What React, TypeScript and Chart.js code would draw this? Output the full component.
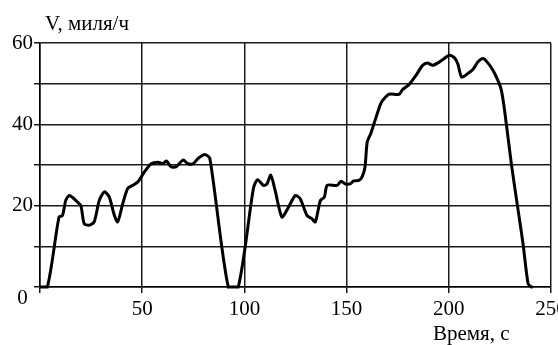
import React, { useEffect, useRef } from "react";
import { Chart, registerables } from "chart.js";

Chart.register(...registerables);

const timeSec = [
  0, 3.6, 9.3, 11, 12.6, 14.3, 16, 18.3, 20, 21.6, 24, 26.5, 29, 31.5, 33.9, 36.4, 38, 40.5, 42.9,
  45.4, 47.8, 51.1, 54.4, 57.7, 60.1, 61.8, 64.2, 66.7, 70, 72.4, 74.9, 77.3, 80.6, 83.1, 92.1, 97,
  104.4, 106.4, 109.3, 111, 112.9, 115, 118.3, 120.8, 124.9, 127.3, 130.6, 133, 134.7, 137.2, 139.1,
  140.5, 145.4, 147.3, 149.5, 151.9, 153.5, 156, 157.7, 159, 160.1, 161.8, 164.2, 166.7, 168.3,
  170.8, 175.7, 177.3, 180.6, 183.9, 187.2, 189.6, 192.1, 195.3, 197.8, 200.2, 202.7, 204.4, 206.3,
  209.3, 211.8, 214.2, 216.7, 218.8, 221.6, 224, 225.7, 227.3, 230.6, 233.9, 236.3, 238.8, 240.4, 241,
];

const speedMph = [
  0, 0, 17.2, 17.6, 21.3, 22.5, 22, 20.9, 20, 15.6, 15.2, 16, 21.3, 23.4, 22.1, 17.6, 16, 20.5, 24.2,
  25, 25.8, 28.3, 30.3, 30.7, 30.3, 31, 29.5, 29.6, 31.2, 30.3, 30.3, 31.6, 32.6, 31.6, 0, 0,
  24.2, 26.4, 25, 25.3, 27.5, 23.8, 17.2, 18.9, 22.5, 21.7, 17.6, 16.8, 16, 21.3, 22.1,
  25, 25, 26, 25.3, 25.4, 26.1, 26.2, 27.2, 29.5, 35.7, 37.7, 41.4, 45.1, 46.3,
  47.4, 47.4, 48.5, 49.8, 52, 54.5, 55.1, 54.5, 55.3, 56.2, 57, 56.4, 54.9, 51.6,
  52.5, 53.5, 55.3, 56.2, 55.3, 53.3, 50.8, 48.4, 43.4, 30.3, 18.9, 10.7, 0.8, 0, 0,
];

const yTickLabels = [20, 40, 60];
const xTickLabels = [50, 100, 150, 200, 250];
const yTitle = "V, миля/ч";
const xTitle = "Время, с";
const originLabel = "0";

const FONT = '"Liberation Serif", "Times New Roman", serif';

export default function App() {
  const ref = useRef<HTMLCanvasElement | null>(null);

  useEffect(() => {
    if (!ref.current) return;
    const textPlugin = {
      id: "texts",
      afterDraw(chart: any) {
        const ctx = chart.ctx;
        ctx.save();
        ctx.fillStyle = "#000";
        ctx.font = "21px " + FONT;
        ctx.textBaseline = "middle";
        ctx.textAlign = "left";
        ctx.fillText(yTitle, 45, 24);
        ctx.fillText(xTitle, 433, 334);
        ctx.textAlign = "center";
        ctx.fillText(originLabel, 22.5, 298);
        ctx.restore();
      },
    };

    const chart = new Chart(ref.current, {
      type: "line",
      data: {
        datasets: [
          {
            data: timeSec.map((t, i) => ({ x: t, y: speedMph[i] })),
            borderColor: "#000",
            borderWidth: 3,
            pointRadius: 0,
            tension: 0.25,
            fill: false,
            clip: false as any,
          },
        ],
      },
      options: {
        animation: false,
        responsive: true,
        maintainAspectRatio: false,
        layout: { padding: { top: 43, right: 7, left: 0, bottom: 0 } },
        plugins: { legend: { display: false }, tooltip: { enabled: false } },
        scales: {
          x: {
            type: "linear",
            min: 0,
            max: 250,
            afterBuildTicks: (scale: any) => {
              scale.ticks = [0, ...xTickLabels].map((v) => ({ value: v }));
            },
            afterFit: (scale: any) => {
              scale.height = 58;
              scale.paddingLeft = 0;
              scale.paddingRight = 0;
            },
            ticks: {
              color: "#000",
              font: { family: FONT, size: 21 },
              padding: 4,
              maxRotation: 0,
              autoSkip: false,
              callback: (v: any) => (xTickLabels.includes(Number(v)) ? String(v) : ""),
            },
            grid: { color: "#1a1a1a", lineWidth: 1.5, tickLength: 6, drawTicks: true },
            border: { color: "#000", width: 1.5 },
          },
          y: {
            type: "linear",
            min: 0,
            max: 60,
            afterBuildTicks: (scale: any) => {
              scale.ticks = [0, 10, 20, 30, 40, 50, 60].map((v) => ({ value: v }));
            },
            afterFit: (scale: any) => {
              scale.width = 40;
              scale.paddingTop = 0;
              scale.paddingBottom = 0;
            },
            ticks: {
              color: "#000",
              font: { family: FONT, size: 21 },
              padding: 1,
              autoSkip: false,
              callback: (v: any) => (yTickLabels.includes(Number(v)) ? String(v) : ""),
            },
            grid: { color: "#1a1a1a", lineWidth: 1.5, tickLength: 6, drawTicks: true },
            border: { color: "#000", width: 1.5 },
          },
        },
      },
      plugins: [textPlugin],
    });
    return () => chart.destroy();
  }, []);

  return (
    <div style={{ position: "fixed", left: 0, top: 0, width: 558, height: 345, background: "#fff" }}>
      <canvas ref={ref} />
    </div>
  );
}
